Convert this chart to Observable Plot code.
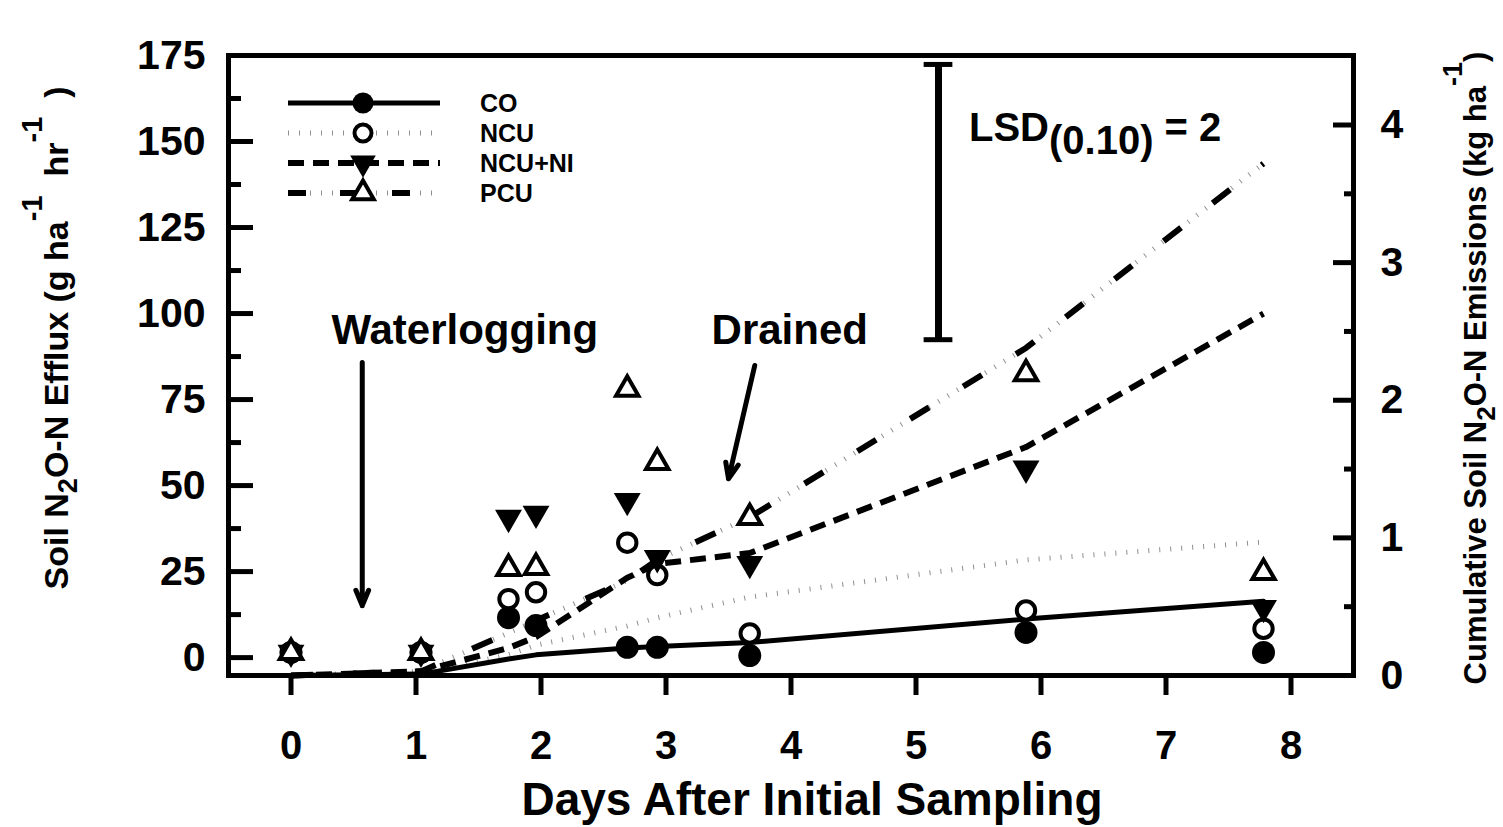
<!DOCTYPE html>
<html>
<head>
<meta charset="utf-8">
<script src="https://cdn.jsdelivr.net/npm/d3@7"></script>
<script src="https://cdn.jsdelivr.net/npm/@observablehq/plot@0.6"></script>
<style>
  html, body { margin: 0; padding: 0; background: #fff; }
  #chart svg { display: block; font-family: "Liberation Sans", Arial, sans-serif; font-weight: bold; }
</style>
</head>
<body>
<div id="chart"></div>
<script>
// ---------------- data ----------------
const days = [0, 1.04, 1.74, 1.96, 2.69, 2.93, 3.67, 5.88, 7.78];
const treatments = ["CO", "NCU", "NCU+NI", "PCU"];

// Soil N2O-N efflux (g ha-1 hr-1), left axis
const effluxCO    = [1.5, 1.5, 11.6,  9.3,  3.0,  3.0,  0.6,  7.3,  1.5];
const effluxNCU   = [1.5, 1.5, 17.0, 19.0, 33.4, 24.0,  7.0, 13.7,  8.4];
const effluxNCUNI = [1.5, 1.5, 40.7, 41.9, 45.6, 29.0, 27.3, 55.0, 14.5];
const effluxPCU   = [1.5, 1.5, 25.9, 26.2, 78.0, 56.7, 40.7, 82.5, 24.7];

// Cumulative soil N2O-N emissions (kg ha-1), right axis
const cumCO    = [0, 0.01, 0.12, 0.15, 0.20, 0.21, 0.24, 0.41, 0.54];
const cumNCU   = [0, 0.02, 0.15, 0.22, 0.36, 0.42, 0.57, 0.84, 0.97];
const cumNCUNI = [0, 0.03, 0.20, 0.28, 0.71, 0.81, 0.89, 1.66, 2.63];
const cumPCU   = [0, 0.03, 0.31, 0.40, 0.69, 0.84, 1.15, 2.38, 3.72];

// ticks
const xTicks = [0, 1, 2, 3, 4, 5, 6, 7, 8];
const leftTicks = [0, 25, 50, 75, 100, 125, 150, 175];
const leftMinor = [12.5, 37.5, 62.5, 87.5, 112.5, 137.5, 162.5];
const rightTicks = [0, 1, 2, 3, 4];
const rightMinor = [0.5, 1.5, 2.5, 3.5];

// annotations
const lsdValue = 2;        // kg ha-1 (right axis)
const lsdTop = 4.44;
const lsdDay = 5.18;
const eventLabels = ["Waterlogging", "Drained"];
const eventLabelDay = [1.39, 3.99];
const eventLabelY = [95.1, 95.1];
const arrowDay1 = [0.57, 3.71];
const arrowDay2 = [0.57, 3.50];
const arrowY1 = [85.8, 84.9];
const arrowY2 = [15.1, 52.0];

// ---------------- scales helpers ----------------
const leftDomain = [-5.2, 175];
const rightPerLeft = 40; // 1 kg ha-1 on right axis = 40 units on left axis
const toL = v => v * rightPerLeft + leftDomain[0];
const fromL = d => (d - leftDomain[0]) / rightPerLeft;

const rows = vals => days.map((d, i) => ({day: d, v: vals[i]}));
const cumRows = vals => days.map((d, i) => ({day: d, v: toL(vals[i])}));

const triangleDown = {
  draw(ctx, size) {
    const y = Math.sqrt(size / (3 * Math.sqrt(3)));
    ctx.moveTo(0, 2 * y);
    ctx.lineTo(Math.sqrt(3) * y, -y);
    ctx.lineTo(-Math.sqrt(3) * y, -y);
    ctx.closePath();
  }
};

const FONT = '"Liberation Sans", Arial, sans-serif';
const greyTick = {stroke: "#8f8f8f", strokeWidth: 5, strokeDasharray: "1,10", strokeLinecap: "butt"};

const plot = Plot.plot({
  width: 1503,
  height: 827,
  marginLeft: 228,
  marginRight: 150,
  marginTop: 55,
  marginBottom: 152,
  x: {domain: [-0.5, 8.5]},
  y: {domain: leftDomain},
  style: {background: "white", color: "black", fontFamily: FONT, fontWeight: "bold"},
  marks: [
    // cumulative lines
    Plot.line(cumRows(cumNCU), {x: "day", y: "v", ...greyTick}),
    Plot.line(cumRows(cumPCU), {x: "day", y: "v", ...greyTick}),
    Plot.line(cumRows(cumPCU), {x: "day", y: "v", stroke: "black", strokeWidth: 6, strokeDasharray: "22,40", strokeLinecap: "butt"}),
    Plot.line(cumRows(cumNCUNI), {x: "day", y: "v", stroke: "black", strokeWidth: 6, strokeDasharray: "16,9", strokeLinecap: "butt"}),
    Plot.line(cumRows(cumCO), {x: "day", y: "v", stroke: "black", strokeWidth: 5}),

    // efflux points
    Plot.dot(rows(effluxCO), {x: "day", y: "v", r: 11.5, fill: "black", stroke: "none"}),
    Plot.dot(rows(effluxNCU), {x: "day", y: "v", r: 9.2, fill: "white", stroke: "black", strokeWidth: 4}),
    Plot.dot(rows(effluxNCUNI), {x: "day", y: "v", r: 10, symbol: triangleDown, fill: "black", stroke: "none"}),
    Plot.dot(rows(effluxPCU), {x: "day", y: "v", r: 8.3, symbol: "triangle", fill: "white", stroke: "black", strokeWidth: 4}),

    // LSD bar
    Plot.ruleX([lsdDay], {y1: toL(lsdTop - lsdValue), y2: toL(lsdTop), stroke: "black", strokeWidth: 7}),
    Plot.ruleY([toL(lsdTop - lsdValue), toL(lsdTop)], {x1: lsdDay - 0.115, x2: lsdDay + 0.115, stroke: "black", strokeWidth: 5}),

    // event annotations
    Plot.arrow(eventLabels, {
      x1: (d, i) => arrowDay1[i], x2: (d, i) => arrowDay2[i],
      y1: (d, i) => arrowY1[i], y2: (d, i) => arrowY2[i],
      stroke: "black", strokeWidth: 5, headLength: 5, headAngle: 45
    }),
    Plot.text(eventLabels, {
      x: (d, i) => eventLabelDay[i], y: (d, i) => eventLabelY[i], text: d => d,
      fontSize: 42, fontWeight: "bold", fill: "black"
    }),

    // frame
    Plot.frame({stroke: "black", strokeWidth: 5}),

    // x axis
    Plot.axisX({ticks: xTicks, anchor: "bottom", tickSize: 20, strokeWidth: 5, tickPadding: 35,
      fontSize: 40, fontWeight: "bold", tickFormat: d => d, label: null}),

    // left axis: ticks inward + labels
    Plot.axisY({ticks: leftTicks, anchor: "left", tickSize: -25, strokeWidth: 5, tickFormat: () => "", label: null}),
    Plot.axisY({ticks: leftMinor, anchor: "left", tickSize: -13, strokeWidth: 5, tickFormat: () => "", label: null}),
    Plot.axisY({ticks: leftTicks, anchor: "left", tickSize: 0, tickPadding: 23,
      fontSize: 41, fontWeight: "bold", tickFormat: d => d, label: null}),

    // right axis (cumulative), mapped onto left units
    Plot.axisY({ticks: rightTicks.map(toL), anchor: "right", tickSize: -21, strokeWidth: 5, tickFormat: () => "", label: null}),
    Plot.axisY({ticks: rightMinor.map(toL), anchor: "right", tickSize: -10, strokeWidth: 5, tickFormat: () => "", label: null}),
    Plot.axisY({ticks: rightTicks.map(toL), anchor: "right", tickSize: 0, tickPadding: 27,
      fontSize: 41, fontWeight: "bold", tickFormat: d => Math.round(fromL(d)), label: null})
  ]
});

document.getElementById("chart").appendChild(plot);

// ---------------- titles, legend, LSD label ----------------
const svg = d3.select(plot);
const sx = plot.scale("x"), sy = plot.scale("y");

// x title
svg.append("text")
  .attr("x", 812).attr("y", 815)
  .attr("text-anchor", "middle")
  .style("font", `bold 46px ${FONT}`)
  .text("Days After Initial Sampling");

// left title
const lt = svg.append("text")
  .attr("transform", "translate(68,338) rotate(-90)")
  .attr("text-anchor", "middle")
  .style("font", `bold 34px ${FONT}`);
lt.append("tspan").text("Soil N");
lt.append("tspan").attr("dy", 9).style("font-size", "27px").text("2");
lt.append("tspan").attr("dy", -9).text("O-N Efflux (g ha");
lt.append("tspan").attr("dy", -26).style("font-size", "29px").text("-1");
lt.append("tspan").attr("dy", 26).text("  hr");
lt.append("tspan").attr("dy", -26).style("font-size", "29px").text("-1");
lt.append("tspan").attr("dy", 26).text("  )");

// right title
const rt = svg.append("text")
  .attr("transform", "translate(1486,368) rotate(-90)")
  .attr("text-anchor", "middle")
  .style("font", `bold 31px ${FONT}`);
rt.append("tspan").text("Cumulative Soil N");
rt.append("tspan").attr("dy", 9).style("font-size", "26px").text("2");
rt.append("tspan").attr("dy", -9).text("O-N Emissions (kg ha");
rt.append("tspan").attr("dy", -24).style("font-size", "27px").text("-1");
rt.append("tspan").attr("dy", 24).text(")");

// LSD label
const lx = sx.apply(lsdDay) + 31;
const ly = sy.apply(toL(lsdTop)) + 77;
const ls = svg.append("text")
  .attr("x", lx).attr("y", ly)
  .attr("text-anchor", "start")
  .style("font", `bold 40px ${FONT}`);
ls.append("tspan").text("LSD");
ls.append("tspan").attr("dy", 13).text("(0.10)");
ls.append("tspan").attr("dy", -13).text(" = 2");

// legend
const legendStyles = {
  "CO":     {lines: [{stroke: "black", width: 5, dash: null}], symbol: d3.symbolCircle, r: 10.5, fill: "black", stroke: "none", sw: 0},
  "NCU":    {lines: [{stroke: "#8f8f8f", width: 5, dash: "1,10"}], symbol: d3.symbolCircle, r: 8.5, fill: "white", stroke: "black", sw: 4},
  "NCU+NI": {lines: [{stroke: "black", width: 6, dash: "16,9"}], symbol: triangleDown, r: 9.5, fill: "black", stroke: "none", sw: 0},
  "PCU":    {lines: [{stroke: "#8f8f8f", width: 5, dash: "1,10"}, {stroke: "black", width: 6, dash: "18,34"}], symbol: d3.symbolTriangle, r: 8, fill: "white", stroke: "black", sw: 4}
};
const lg = svg.append("g");
treatments.forEach((name, i) => {
  const st = legendStyles[name];
  const y = 103 + i * 30;
  st.lines.forEach(l => {
    lg.append("line")
      .attr("x1", 288).attr("x2", 440).attr("y1", y).attr("y2", y)
      .attr("stroke", l.stroke).attr("stroke-width", l.width)
      .attr("stroke-dasharray", l.dash);
  });
  lg.append("path")
    .attr("transform", `translate(363,${y})`)
    .attr("d", d3.symbol().type(st.symbol).size(Math.PI * st.r * st.r)())
    .attr("fill", st.fill).attr("stroke", st.stroke).attr("stroke-width", st.sw);
  lg.append("text")
    .attr("x", 480).attr("y", y + 9)
    .attr("text-anchor", "start")
    .style("font", `bold 25px ${FONT}`)
    .text(name);
});
</script>
</body>
</html>
